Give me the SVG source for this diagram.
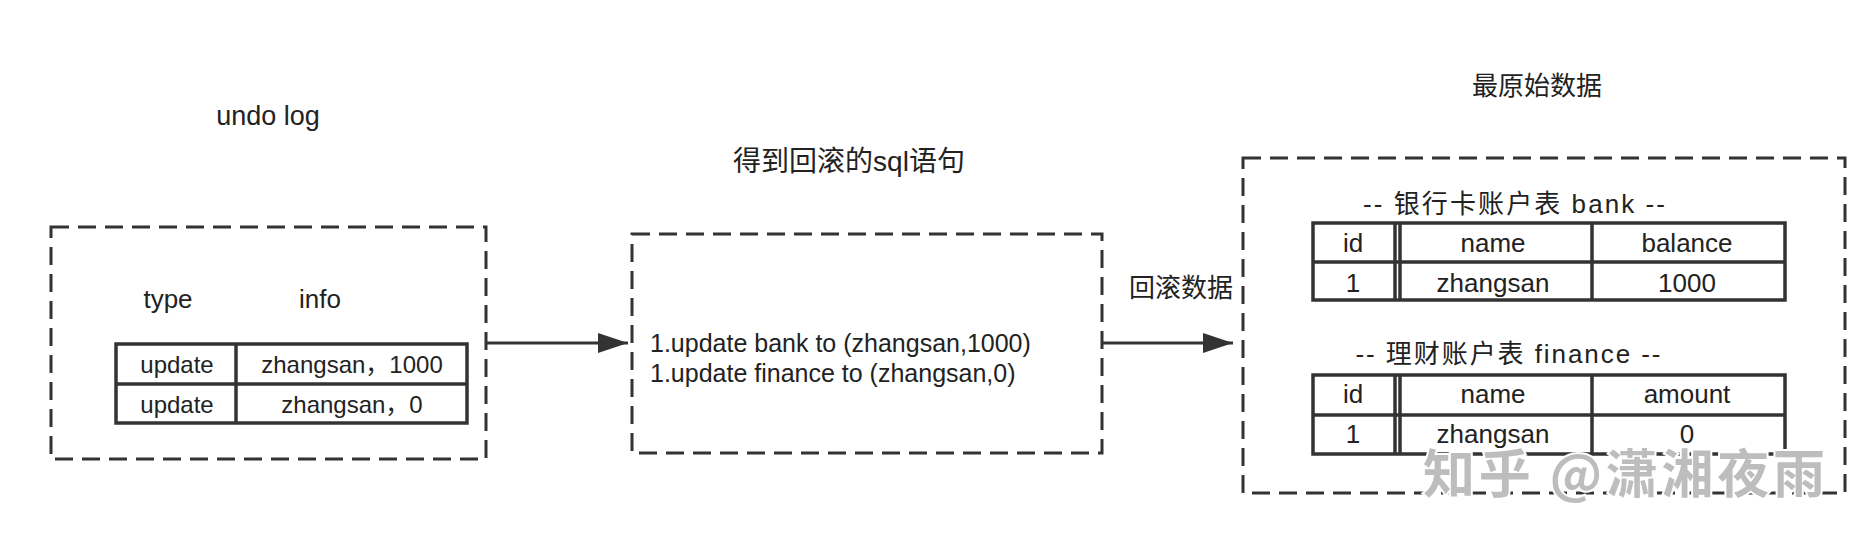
<svg xmlns="http://www.w3.org/2000/svg" width="1874" height="550" viewBox="0 0 1874 550">
<defs>
<style>
.t{font-family:"Liberation Sans","Noto Sans CJK SC",sans-serif;fill:#222;}
.c{text-anchor:middle;}
.box{fill:none;stroke:#333;stroke-width:3;stroke-dasharray:18 9;}
.tb{fill:none;stroke:#333;stroke-width:3.5;}
.ln{stroke:#333;stroke-width:3.5;}
.conn{stroke:#333;stroke-width:3;fill:none;}
.wm{font-family:"Noto Sans CJK SC",sans-serif;font-weight:700;fill:#bdbdbd;stroke:#fff;stroke-width:4;paint-order:stroke;}
</style>
<marker id="arr" viewBox="0 0 30 20" refX="30" refY="10" markerWidth="30" markerHeight="20" markerUnits="userSpaceOnUse" orient="auto">
<path d="M0,0 L30,10 L0,20 z" fill="#333"/>
</marker>
</defs>
<rect width="1874" height="550" fill="#fff"/>

<g id="undo-log">
<text class="t c" x="268" y="125" font-size="27">undo log</text>
<rect class="box" x="51" y="227" width="435" height="232"/>
<text class="t c" x="168" y="308" font-size="26">type</text>
<text class="t c" x="320" y="308" font-size="26">info</text>
<rect class="tb" x="116" y="344" width="351" height="79"/>
<line class="ln" x1="116" y1="384" x2="467" y2="384"/>
<line class="ln" x1="236" y1="344" x2="236" y2="423"/>
<text class="t c" x="177" y="373" font-size="24">update</text>
<text class="t c" x="177" y="413" font-size="24">update</text>
<text class="t c" x="352" y="373" font-size="24">zhangsan，1000</text>
<text class="t c" x="352" y="413" font-size="24">zhangsan，0</text>
</g>

<g id="rollback-sql">
<text class="t c" x="849" y="171" font-size="28">得到回滚的sql语句</text>
<rect class="box" x="632" y="234" width="470" height="219"/>
<text class="t" x="650" y="352" font-size="25">1.update bank to (zhangsan,1000)</text>
<text class="t" x="650" y="382" font-size="25">1.update finance to (zhangsan,0)</text>
</g>

<g id="original-data">
<text class="t c" x="1537" y="95" font-size="26">最原始数据</text>
<rect class="box" x="1243" y="158" width="602" height="335"/>
<text class="t c" x="1514" y="213" font-size="26" textLength="302" lengthAdjust="spacing">-- 银行卡账户表 bank --</text>
<rect class="tb" x="1313" y="223" width="472" height="77"/>
<line class="ln" x1="1313" y1="262" x2="1785" y2="262"/>
<line class="ln" x1="1395" y1="223" x2="1395" y2="300"/>
<line class="ln" x1="1400" y1="223" x2="1400" y2="300"/>
<line class="ln" x1="1592" y1="223" x2="1592" y2="300"/>
<text class="t c" x="1353" y="252" font-size="26">id</text>
<text class="t c" x="1493" y="252" font-size="26">name</text>
<text class="t c" x="1687" y="252" font-size="26">balance</text>
<text class="t c" x="1353" y="292" font-size="26">1</text>
<text class="t c" x="1493" y="292" font-size="26">zhangsan</text>
<text class="t c" x="1687" y="292" font-size="26">1000</text>

<text class="t c" x="1508" y="363" font-size="26" textLength="305" lengthAdjust="spacing">-- 理财账户表 finance --</text>
<rect class="tb" x="1313" y="375" width="472" height="79"/>
<line class="ln" x1="1313" y1="415" x2="1785" y2="415"/>
<line class="ln" x1="1395" y1="375" x2="1395" y2="454"/>
<line class="ln" x1="1400" y1="375" x2="1400" y2="454"/>
<line class="ln" x1="1592" y1="375" x2="1592" y2="454"/>
<text class="t c" x="1353" y="403" font-size="26">id</text>
<text class="t c" x="1493" y="403" font-size="26">name</text>
<text class="t c" x="1687" y="403" font-size="26">amount</text>
<text class="t c" x="1353" y="443" font-size="26">1</text>
<text class="t c" x="1493" y="443" font-size="26">zhangsan</text>
<text class="t c" x="1687" y="443" font-size="26">0</text>
</g>

<g id="connectors">
<line class="conn" x1="486" y1="343" x2="628" y2="343" marker-end="url(#arr)"/>
<line class="conn" x1="1102" y1="343" x2="1233" y2="343" marker-end="url(#arr)"/>
<text class="t c" x="1181" y="297" font-size="26">回滚数据</text>
</g>

<g id="watermark">
<text class="wm" x="1423" y="493" font-size="52" textLength="402" lengthAdjust="spacing">知乎 @潇湘夜雨</text>
</g>
</svg>
